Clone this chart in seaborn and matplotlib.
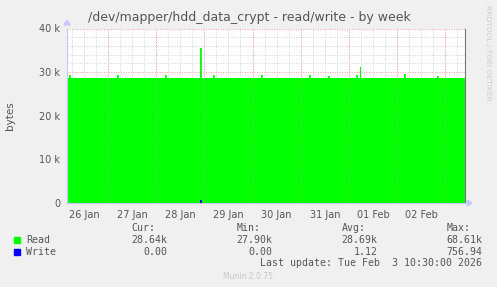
import matplotlib
matplotlib.use("Agg")
import matplotlib.pyplot as plt
import matplotlib.transforms as mtransforms
import seaborn as sns
import pandas as pd
import numpy as np

# ---- data (time in days since 26 Jan 00:00) ----
read_t = [0.150, 0.185, 0.190, 0.205, 1.180, 1.186, 1.201, 2.176, 2.182, 2.197,
          2.913, 2.918, 2.934, 3.172, 3.178, 3.193, 4.167, 4.173, 4.188,
          5.163, 5.169, 5.184, 5.566, 5.572, 5.587, 6.140, 6.150, 6.170,
          6.215, 6.221, 6.236, 7.142, 7.148, 7.163, 7.833, 7.839, 7.854, 8.420]
read_v = [28640, 28640, 29400, 28640, 28640, 29400, 28640, 28640, 29400, 28640,
          28640, 35500, 28640, 28640, 29300, 28640, 28640, 29300, 28640,
          28640, 29300, 28640, 28640, 29200, 28640, 28640, 29300, 28640,
          28640, 31100, 28640, 28640, 29500, 28640, 28640, 29200, 28640, 28640]
write_t = [0.150, 2.913, 2.918, 2.934, 8.420]
write_v = [0, 0, 757, 0, 0]

day_labels = ["26 Jan", "27 Jan", "28 Jan", "29 Jan", "30 Jan", "31 Jan", "01 Feb", "02 Feb"]
y_ticks = [0, 10000, 20000, 30000, 40000]
y_tick_labels = ["0", "10 k", "20 k", "30 k", "40 k"]

legend_names = ["Read", "Write"]
legend_colors = ["#00FF00", "#0000FF"]
cur_vals = ["28.64k", "0.00"]
min_vals = ["27.90k", "0.00"]
avg_vals = ["28.69k", "1.12"]
max_vals = ["68.61k", "756.94"]

title = "/dev/mapper/hdd_data_crypt - read/write - by week"

# ---- figure ----
sns.set_style("white")
plt.rcParams["font.family"] = ["DejaVu Sans"]
W, H = 497, 287
fig = plt.figure(figsize=(W / 100, H / 100), dpi=100, facecolor="#F0F0F0")
L, R, T, B = 67, 465, 28.5, 203
ax = fig.add_axes([L / W, 1 - B / H, (R - L) / W, (B - T) / H])
ax.set_facecolor("white")

df_r = pd.DataFrame({"t": read_t, "v": read_v})
df_w = pd.DataFrame({"t": write_t, "v": write_v})

ax.fill_between(df_r["t"], 0, df_r["v"], step="post", color=legend_colors[0], lw=0, zorder=2)
sns.lineplot(data=df_r, x="t", y="v", drawstyle="steps-post", color=legend_colors[0],
             lw=0.6, ax=ax, zorder=3)
ax.fill_between(df_w["t"], 0, df_w["v"], step="post", color=legend_colors[1], lw=0, zorder=4)
sns.lineplot(data=df_w, x="t", y="v", drawstyle="steps-post", color=legend_colors[1],
             lw=0.6, ax=ax, zorder=4)

x0, x1 = 0.15, 8.41
ax.set_xlim(x0, x1)
ax.set_ylim(0, 40000)
ax.set_xlabel("")
ax.set_ylabel("bytes", fontsize=7.5, color="#555555", labelpad=17)

# grid
ax.set_xticks(np.arange(1, 9))
ax.set_xticks(np.arange(0.25, 8.41, 0.25), minor=True)
ax.set_yticks(y_ticks)
ax.set_yticks(np.arange(0, 40001, 2000), minor=True)
ax.set_yticklabels(y_tick_labels, fontsize=7, color="#555555")
ax.set_xticklabels([])
ax.set_axisbelow(True)
ax.grid(which="minor", color="#D2D2D2", linestyle=(0, (1, 1.5)), lw=0.7)
ax.grid(which="major", color="#F0A0A0", linestyle=(0, (1, 1.5)), lw=0.7)
# faint midnight lines visible over the area
ax.vlines(ax.get_xticks(), 0, 1, transform=ax.get_xaxis_transform(), colors="#F0A0A0",
          linestyles=(0, (1, 1.5)), lw=0.7, alpha=0.45, zorder=5)
ax.tick_params(axis="both", which="both", length=2, width=0.6, color="#C8C8C8")
ax.tick_params(axis="both", which="major", color="#F0A0A0", pad=3)

ax.spines["top"].set_visible(False)
ax.spines["left"].set_color("#C8C8FF")
ax.spines["bottom"].set_color("#C8C8FF")
ax.spines["right"].set_color("#777777")
for s in ax.spines.values():
    s.set_linewidth(0.8)
    s.set_zorder(6)

# day labels at noon
trans = mtransforms.blended_transform_factory(ax.transData, ax.transAxes)
for i, lab in enumerate(day_labels):
    ax.text(i + 0.5, -0.04, lab, transform=trans, ha="center", va="top",
            fontsize=7, color="#555555")

# axis arrows
fig.patches.append(plt.Polygon([[(L - 3) / W, 1 - 25 / H], [(L + 3) / W, 1 - 25 / H],
                                [L / W, 1 - 20 / H]], closed=True, color="#C8C8FF",
                               transform=fig.transFigure))
fig.patches.append(plt.Polygon([[(R + 2) / W, 1 - 200 / H], [(R + 2) / W, 1 - 206 / H],
                                [(R + 7) / W, 1 - B / H]], closed=True, color="#C8C8FF",
                               transform=fig.transFigure))

def ft(x, y, s, **kw):
    fig.text(x / W, 1 - y / H, s, **kw)

ft(249, 17, title, ha="center", va="center", fontsize=9.0, color="#555555")
ft(488, 5, "RRDTOOL / TOBI OETIKER", rotation=270, ha="center", va="top",
   fontsize=5.4, color="#CCCCCC")

mono = dict(family="DejaVu Sans Mono", fontsize=7.1, color="#555555", va="center")
ft(131.7, 228, "Cur:", ha="left", **mono)
ft(236.7, 228, "Min:", ha="left", **mono)
ft(341.7, 228, "Avg:", ha="left", **mono)
ft(446.7, 228, "Max:", ha="left", **mono)

rows_y = [240, 252]
for i in range(2):
    y = rows_y[i]
    fig.patches.append(plt.Rectangle((14 / W, 1 - (y + 3) / H), 6 / W, 6 / H,
                                     color=legend_colors[i], transform=fig.transFigure))
    ft(26, y, legend_names[i], ha="left", **mono)
    ft(167.5, y, cur_vals[i], ha="right", **mono)
    ft(272.5, y, min_vals[i], ha="right", **mono)
    ft(377.5, y, avg_vals[i], ha="right", **mono)
    ft(482.5, y, max_vals[i], ha="right", **mono)

ft(482.5, 263.5, "Last update: Tue Feb  3 10:30:00 2026", ha="right", **mono)
ft(248, 276.5, "Munin 2.0.75", ha="center", va="center", fontsize=5.5, color="#C8C8C8")

fig.savefig("out.png", dpi=100, facecolor=fig.get_facecolor())
